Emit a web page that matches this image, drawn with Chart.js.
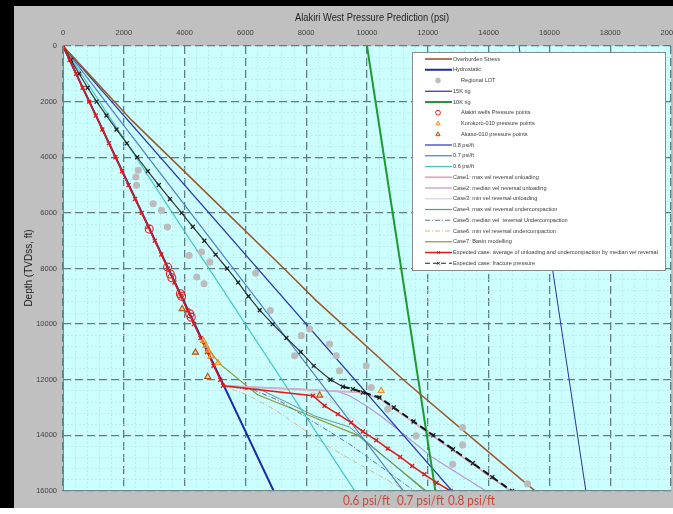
<!DOCTYPE html>
<html>
<head>
<meta charset="utf-8">
<script src="https://cdn.jsdelivr.net/npm/chart.js@4.4.1/dist/chart.umd.min.js"></script>
<style>
  html, body { margin: 0; padding: 0; background: #fff; }
  canvas { display: block; }
</style>
</head>
<body>
<canvas id="chart" width="673" height="514"></canvas>
<script>
// all values: pressure in psi, depth in ft (TVDss)
const overburdenPsi   = [0, 2256, 5390, 7268, 8330, 11232, 14023, 15530]
const overburdenDepth = [0, 2667, 6000, 8000, 9153, 12036, 14620, 16000]

const hydroPsi   = [0, 6930]
const hydroDepth = [0, 16000]

const lotPsi   = [2474, 2397, 2420, 2966, 3240, 3437, 4150, 4555, 4828, 4400, 4640, 6338, 6820, 7839, 8112, 8768, 7619, 8988, 9097, 9973, 10138, 10683, 11616, 12818, 13147, 13147, 15281]
const lotDepth = [4468, 4709, 5009, 5670, 5910, 6511, 7532, 7411, 7771, 8310, 8550, 8168, 9514, 10414, 10174, 10715, 11135, 11135, 11676, 11495, 12277, 13057, 14018, 15038, 13719, 14342, 15737]

const rig15Psi   = [15000, 17200]
const rig10Psi   = [10000, 12250]
const rigDepth   = [0, 16000]

const alakiriPsi   = [2835, 3440, 3530, 3580, 3860, 3900, 4170, 4220]
const alakiriDepth = [6580, 7950, 8200, 8330, 8910, 9000, 9630, 9750]
const korokoroPsi   = [4620, 4700, 4780, 4870, 5100, 10466]
const korokoroDepth = [10600, 10780, 10950, 11150, 11400, 12396]
const akasoPsi   = [3918, 4357, 4760, 8440]
const akasoDepth = [9452, 11016, 11892, 12560]

const grad08Psi = [0, 12800]
const grad07Psi = [0, 11200]
const grad06Psi = [0, 9600]
const gradDepth = [0, 16000]

const case1Psi   = [5265, 9900, 10450, 14720]
const case1Depth = [12216, 12460, 12700, 16000]
const case2Psi   = [5265, 9000, 9425, 10000, 10520, 12160, 13914]
const case2Depth = [12216, 12400, 12577, 12950, 13358, 14800, 16000]
const case3Psi   = [5265, 7900, 8700, 12500]
const case3Depth = [12216, 12330, 12650, 16000]
const case4Psi   = [5265, 6400, 8275, 9425, 11900]
const case4Depth = [12216, 12300, 13300, 13700, 16000]
const case5Psi   = [5265, 6300, 7126, 9425, 11560]
const case5Depth = [12216, 12380, 12757, 14317, 16000]
const case6Psi   = [5265, 6100, 7000, 8800, 11300]
const case6Depth = [12216, 12560, 13100, 14450, 16000]
const case7Psi   = [0, 4540, 5156, 6400, 8000, 9700, 11950]
const case7Depth = [0, 10535, 11432, 12540, 13240, 14000, 16000]

const expectedDepth = [0, 500, 1000, 1500, 2000, 2500, 3000, 3500, 4000, 4500, 5000, 5500, 6000, 6500, 7000, 7500, 8000, 8500, 9000, 9500, 10000, 10500, 11000, 11500, 12000, 12216, 12577, 12937, 13236, 13539, 13863, 14173, 14476, 14775, 15099, 15398, 15701, 16000]
const expectedPsi   = [0, 215, 430, 645, 860, 1080, 1295, 1510, 1725, 1940, 2155, 2370, 2590, 2805, 3020, 3235, 3450, 3665, 3880, 4095, 4310, 4525, 4740, 4955, 5175, 5265, 8220, 8604, 9041, 9481, 9862, 10302, 10683, 11090, 11484, 11888, 12292, 12750]

const fracDepth = [0, 500, 1000, 1500, 2000, 2500, 3000, 3500, 4000, 4500, 5000, 5500, 6000, 6500, 7000, 7500, 8000, 8500, 9000, 9500, 10000, 10500, 11000, 11500, 12000, 12250, 12335, 12457, 12637, 13000, 13500, 14000, 14500, 15000, 15500, 16000]
const fracPsi   = [0, 260, 530, 810, 1107, 1430, 1760, 2100, 2440, 2790, 3150, 3520, 3900, 4270, 4650, 5020, 5400, 5760, 6100, 6470, 6900, 7350, 7820, 8250, 8800, 9206, 9534, 9862, 10410, 10880, 11530, 12180, 12830, 13480, 14120, 14770]

const xTicks = [0, 2000, 4000, 6000, 8000, 10000, 12000, 14000, 16000, 18000, 20000]
const yTicks = [0, 2000, 4000, 6000, 8000, 10000, 12000, 14000, 16000]
const gradLabels = ['0.6 psi/ft', '0.7 psi/ft', '0.8 psi/ft']

const pts = (psi, depth) => psi.map((x, i) => ({x: x, y: depth[i]}))

function line(label, psi, depth, color, width, extra) {
  return Object.assign({
    label: label, data: pts(psi, depth), showLine: true, fill: false,
    borderColor: color, backgroundColor: color, borderWidth: width,
    pointRadius: 0, order: 3
  }, extra || {})
}
function marks(label, psi, depth, style, border, bg, r) {
  return {
    label: label, data: pts(psi, depth), showLine: false,
    pointStyle: style, pointRadius: r, borderColor: border, backgroundColor: bg,
    pointBorderWidth: 1.1, order: 0
  }
}

const dashDot = [5, 2, 1, 2]

const datasets = [
  line('Overburden Stress', overburdenPsi, overburdenDepth, '#9b5a2c', 1.6),
  line('Hydrostatic', hydroPsi, hydroDepth, '#1a2aa8', 2),
  marks('Regional LOT', lotPsi, lotDepth, 'circle', '#bcbcbc', '#bcbcbc', 3),
  line('15K rig', rig15Psi, rigDepth, '#27339e', 1),
  line('10K rig', rig10Psi, rigDepth, '#1f9a30', 2),
  marks('Alakiri wells Pressure points', alakiriPsi, alakiriDepth, 'circle', '#e02020', 'rgba(0,0,0,0)', 4),
  marks('Korokoro-010 pressure points', korokoroPsi, korokoroDepth, 'triangle', '#f09020', 'rgba(255,200,120,0.5)', 3.5),
  marks('Akaso-010 pressure points', akasoPsi, akasoDepth, 'triangle', '#b85010', 'rgba(240,190,120,0.6)', 3.5),
  line('0.8 psi/ft', grad08Psi, gradDepth, '#2a36a8', 1.2),
  line('0.7 psi/ft', grad07Psi, gradDepth, '#4c7acb', 1.2),
  line('0.6 psi/ft', grad06Psi, gradDepth, '#3fc4c4', 1.2),
  line('Case1: max vel reversal unloading', case1Psi, case1Depth, '#d8afc0', 1.8),
  line('Case2: median vel reversal unloading', case2Psi, case2Depth, '#b894e0', 1.2),
  line('Case3: min vel reversal unloading', case3Psi, case3Depth, '#d0d4dc', 1),
  line('Case4: max vel reversal undercompaction', case4Psi, case4Depth, '#5c9696', 1),
  line('Case5: median vel  reversal Undercompaction', case5Psi, case5Depth, '#5a6cb0', 1, {borderDash: dashDot}),
  line('Case6: min vel reversal undercompaction', case6Psi, case6Depth, '#e0b488', 1, {borderDash: dashDot}),
  line('Case7: Basin modelling', case7Psi, case7Depth, '#8e9a2e', 1.2),
  line('Expected case: average of unloading and undercompaction by median vel reversal', expectedPsi, expectedDepth, '#e31a1a', 1.5,
    {pointRadius: 2.8, pointStyle: 'crossRot', pointBorderWidth: 1.4, order: 1}),
  line('Expected case: fracture pressure', fracPsi, fracDepth, '#222222', 1.2, {
    pointRadius: 2.8, pointStyle: 'crossRot', pointBorderWidth: 1.3, order: 2,
    segment: {
      borderDash: c => c.p1.parsed.y > 12260 ? [7, 4] : [],
      borderWidth: c => c.p1.parsed.y > 12260 ? 2 : 1.2,
      borderColor: c => c.p1.parsed.y > 12260 ? '#111111' : '#333333'
    }
  })
]

const isMajor = v => v % 2000 === 0

// paper, frame and cyan plot area
const backdrop = {
  id: 'backdrop',
  beforeDraw(chart) {
    const ctx = chart.ctx, a = chart.chartArea
    ctx.save()
    ctx.fillStyle = '#ffffff'
    ctx.fillRect(0, 0, chart.width, chart.height)
    ctx.fillStyle = '#c0c0c0'
    ctx.fillRect(14, 6, chart.width - 14, 502)
    ctx.fillStyle = '#000000'
    ctx.fillRect(0, 0, chart.width, 6)
    ctx.fillRect(0, 0, 14, 508)
    ctx.fillStyle = '#ccffff'
    ctx.fillRect(a.left, a.top, a.right - a.left, a.bottom - a.top)
    ctx.restore()
  }
}

function drawMark(ctx, style, x, y, r) {
  ctx.beginPath()
  if (style === 'circle') {
    ctx.arc(x, y, r, 0, Math.PI * 2)
    ctx.fill(); ctx.stroke()
  } else if (style === 'triangle') {
    ctx.moveTo(x, y - r)
    ctx.lineTo(x + r * 0.9, y + r * 0.6)
    ctx.lineTo(x - r * 0.9, y + r * 0.6)
    ctx.closePath()
    ctx.fill(); ctx.stroke()
  } else {
    ctx.moveTo(x - r * 0.7, y - r * 0.7); ctx.lineTo(x + r * 0.7, y + r * 0.7)
    ctx.moveTo(x + r * 0.7, y - r * 0.7); ctx.lineTo(x - r * 0.7, y + r * 0.7)
    ctx.stroke()
  }
}

const decorations = {
  id: 'decorations',
  afterDraw(chart) {
    const ctx = chart.ctx, a = chart.chartArea
    ctx.save()
    // plot outline on left and bottom
    ctx.strokeStyle = '#6f8a8e'
    ctx.lineWidth = 1
    ctx.beginPath()
    ctx.moveTo(a.left + 0.5, a.top)
    ctx.lineTo(a.left + 0.5, a.bottom - 0.5)
    ctx.lineTo(a.right, a.bottom - 0.5)
    ctx.stroke()

    // titles
    ctx.fillStyle = '#1e1e1e'
    ctx.textAlign = 'center'
    ctx.textBaseline = 'middle'
    ctx.font = '10px "Liberation Sans", Arial, sans-serif'
    ctx.fillText('Alakiri West Pressure Prediction (psi)', 372, 18, 154)
    ctx.save()
    ctx.translate(29, 268)
    ctx.rotate(-Math.PI / 2)
    ctx.fillText('Depth (TVDss, ft)', 0, 0)
    ctx.restore()

    // legend box
    const items = chart.data.datasets
    const left = 412, top = 52, w = 253, rowH = 10.75
    const h = items.length * rowH + 3
    ctx.fillStyle = '#ffffff'
    ctx.fillRect(left, top, w, h)
    ctx.strokeStyle = '#8a8a8a'
    ctx.lineWidth = 1
    ctx.strokeRect(left + 0.5, top + 0.5, w, h)
    ctx.font = '5.6px "Liberation Sans", Arial, sans-serif'
    ctx.textAlign = 'left'
    items.forEach((d, i) => {
      const y = top + 7 + i * rowH
      ctx.setLineDash([])
      if (d.showLine) {
        ctx.strokeStyle = d.borderColor
        ctx.lineWidth = Math.max(d.borderWidth, 1.2)
        ctx.setLineDash(d.label.indexOf('fracture') >= 0 ? [5, 3] : (d.borderDash || []))
        ctx.beginPath()
        ctx.moveTo(425, y); ctx.lineTo(452, y)
        ctx.stroke()
        ctx.setLineDash([])
      }
      if (d.pointRadius > 0) {
        ctx.strokeStyle = d.borderColor
        ctx.fillStyle = d.backgroundColor
        ctx.lineWidth = 1
        const r = d.showLine ? 2 : Math.min(d.pointRadius, 2.4)
        drawMark(ctx, d.pointStyle, d.showLine ? 438.5 : 438, y, r)
      }
      ctx.fillStyle = '#3a3a3a'
      ctx.fillText(d.label, d.showLine ? 453 : 461, y)
    })

    // gradient labels under the plot
    ctx.fillStyle = '#c8463c'
    ctx.font = '14px Lato, "Open Sans", sans-serif'
    ctx.textBaseline = 'alphabetic'
    const labelX = [343, 397, 448]
    gradLabels.forEach((t, i) => ctx.fillText(t, labelX[i], 505, 47))
    ctx.restore()
  }
}

const gridColor = c => c.tick && isMajor(c.tick.value) ? '#5e7e84' : '#b6e2e6'
const gridWidth = c => c.tick && isMajor(c.tick.value) ? 1.3 : 0.7
const gridDash = c => c.tick && isMajor(c.tick.value) ? [8, 4] : [2, 2]
const tickFont = {family: '"Liberation Sans Narrow", "Liberation Sans", Arial, sans-serif', size: 7.5}

new Chart(document.getElementById('chart'), {
  type: 'scatter',
  data: {datasets: datasets},
  plugins: [backdrop, decorations],
  options: {
    responsive: false,
    animation: false,
    devicePixelRatio: 1,
    layout: {autoPadding: false, padding: {left: 14, top: 6, right: 2, bottom: 23}},
    plugins: {legend: {display: false}, tooltip: {enabled: false}},
    elements: {line: {tension: 0}},
    scales: {
      x: {
        type: 'linear', position: 'top', min: 0, max: 20000,
        afterFit: s => { s.height = 40; s.paddingLeft = 0; s.paddingRight = 0 },
        ticks: {
          stepSize: 400, autoSkip: false, maxRotation: 0, padding: 9,
          color: '#404040', font: tickFont,
          callback: v => xTicks.includes(v) ? String(v) : ''
        },
        grid: {color: gridColor, lineWidth: gridWidth, drawTicks: false},
        border: {display: false, dash: gridDash}
      },
      y: {
        type: 'linear', reverse: true, min: 0, max: 16000,
        afterFit: s => { s.width = 49 },
        ticks: {
          stepSize: 400, autoSkip: false, padding: 6,
          color: '#404040', font: tickFont,
          callback: v => yTicks.includes(v) ? String(v) : ''
        },
        grid: {color: gridColor, lineWidth: gridWidth, drawTicks: false},
        border: {display: false, dash: gridDash}
      }
    }
  }
})
</script>
</body>
</html>
